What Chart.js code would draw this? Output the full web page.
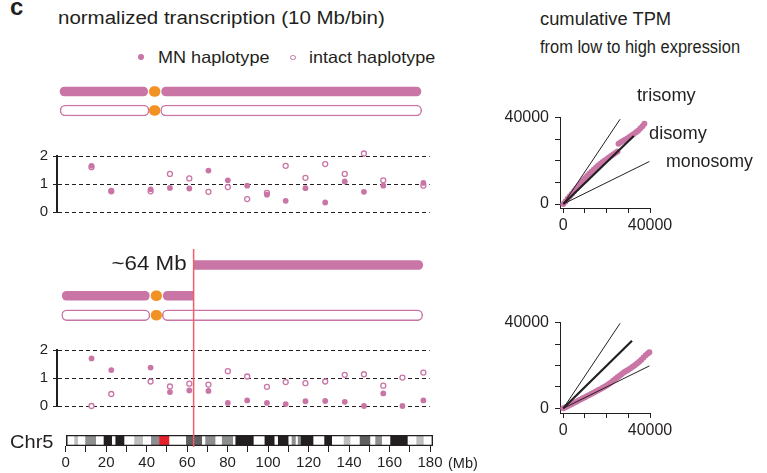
<!DOCTYPE html>
<html><head><meta charset="utf-8">
<script src="https://cdn.jsdelivr.net/npm/chart.js@4"></script>
<style>
html,body{margin:0;padding:0;background:#fff;width:767px;height:473px;overflow:hidden;position:relative;font-family:"Liberation Sans",Arial,Helvetica,sans-serif;color:#231f20}
canvas{position:absolute}
.t{position:absolute;white-space:nowrap;line-height:1}
.dot{position:absolute;border-radius:50%;box-sizing:border-box}
</style></head><body>
<script>
// ---------------- data ----------------
// bin centres (Mb) of the 10 Mb bins along Chr5
const binsMb = [13.0, 22.9, 42.6, 52.3, 62.0, 71.6, 81.3, 91.0, 100.9, 110.3, 120.2, 130.1, 139.9, 149.5, 159.2, 168.8, 179.3];
// normalized transcription, upper panel (whole-chromosome MN)
const topMN     = [1.65, 0.76, 0.81, 0.86, 0.84, 1.48, 1.13, 0.94, 0.62, 0.40, 0.85, 0.34, 1.09, 0.72, 0.94, null, 1.04];
const topIntact = [1.60, 0.74, 0.74, 1.36, 1.20, 0.72, 0.89, 0.46, 0.68, 1.65, 1.22, 1.71, 1.36, 2.09, 1.13, null, 0.94];
// lower panel (~64 Mb breakpoint)
const botMN     = [1.71, 1.29, 1.38, 0.50, 0.56, 0.54, 0.11, 0.20, 0.11, 0.07, 0.17, 0.18, 0.15, 0.00, 0.45, 0.00, 0.20];
const botIntact = [0.00, 0.43, 0.88, 0.70, 0.80, 0.77, 1.25, 1.06, 0.69, 0.86, 0.82, 0.88, 1.12, 1.14, 0.73, 1.02, 1.20];
const yTicksNorm = [0, 1, 2];

// chromosome cartoons (Mb)
const topMNArms     = [[-2.8, 40.5], [47.4, 175.5]];
const topIntactArms = [[-2.8, 41.2], [46.9, 175.9]];
const topCen        = [41.3, 46.6];
const breakpointMb  = 63.2;
const botGain       = [63.2, 176.4];
const botMNArms     = [[-1.7, 41.3], [48.2, 63.2]];
const botIntactArms = [[-2.0, 41.6], [47.7, 176.4]];
const botCen        = [42.2, 47.4];

// Chr5 ideogram bands [start, end, stain]
const chrLen = 181.45;
const bands = [
 [0,4.1,'gneg'],[4.1,5.9,'gpos25'],[5.9,9.5,'gneg'],[9.5,14.8,'gpos50'],[14.8,18.6,'gneg'],
 [18.6,22.7,'gpos100'],[22.7,24.4,'gneg'],[24.4,28.8,'gpos100'],[28.8,33.7,'gneg'],[33.7,38,'gpos25'],
 [38,42,'gneg'],[42,46.1,'gpos50'],[46.1,51,'acen'],[51,59.3,'gneg'],[59.3,67.2,'gpos75'],
 [67.2,68.8,'gneg'],[68.8,73.8,'gpos50'],[73.8,77,'gneg'],[77,82.5,'gpos50'],[82.5,83.7,'gneg'],
 [83.7,92.7,'gpos100'],[92.7,98.1,'gneg'],[98.1,103,'gpos100'],[103,104.7,'gneg'],[104.7,109.9,'gpos100'],
 [109.9,111.5,'gneg'],[111.5,113.5,'gpos50'],[113.5,114.5,'gneg'],[114.5,116,'gpos50'],[116,122.2,'gpos100'],
 [122.2,127.6,'gneg'],[127.6,131.4,'gpos100'],[131.4,137.2,'gneg'],[137.2,140.5,'gpos25'],[140.5,145.1,'gneg'],
 [145.1,150.3,'gpos75'],[150.3,152.8,'gneg'],[152.8,156.1,'gpos50'],[156.1,160.2,'gneg'],[160.2,168.8,'gpos100'],
 [168.8,173.1,'gneg'],[173.1,176.7,'gpos25'],[176.7,181.45,'gneg']
];
const chrTicksMb = [0,10,20,30,40,50,60,70,80,90,100,110,120,130,140,150,160,170,180];

// cumulative TPM (thousands): expected (x) vs observed (y)
const cumTopX = [0,1,2,3,4,5,6,7,8,9,10,11,12,13,14,15,16,17,18,19,20,21,22,23,24,25,25.5,26.5,27.5,28.5,29.5,30.5,31.5,32.5,33.5,34.5,35.5,36.5,37.4];
const cumTopY = [0,1.2,2.4,3.6,4.8,6,7.2,8.4,9.6,10.8,11.9,13,14,15,15.9,16.8,17.7,18.5,19.3,20.1,20.8,21.5,22.2,22.9,23.6,24.3,27.9,28.6,29.2,29.8,30.4,31,31.7,32.4,33.2,34,35,36,37.2];
const cumBotX = [0,1,2,3,4,5,6,7,8,9,10,11,12,13,14,15,16,17,18,19,20,21,22,23,24,25,26,27,28,29,30,31,32,33,34,35,36,37,38,39,39.7];
const cumBotY = [0,0.5,1,1.55,2.05,2.6,3.1,3.6,4.15,4.7,5.2,5.75,6.25,6.8,7.3,7.85,8.4,8.9,9.5,10.1,10.7,11.4,12.1,12.9,13.7,14.5,15.2,16,16.8,17.4,18,18.7,19.4,20.1,20.9,21.7,22.7,23.7,24.8,25.6,26.2];
// reference lines: end points (thousands) [x, y]
const trisomyTop = [26.2, 39.3], disomyTop = [32.5, 31.5], monosomyTop = [39.7, 19.7];
const trisomyBot = [26.2, 39.7], disomyBot = [31.7, 31.6], monosomyBot = [39.7, 19.8];
const cumTicks = [0, 10000, 20000, 30000, 40000];

// ---------------- styles ----------------
const FONT = '"Liberation Sans", Arial, Helvetica, sans-serif';
const PINK = '#c975a5', ORANGE = '#f29224', INK = '#231f20', RED = '#ee5f6a';
const STAIN = {gneg:'#ffffff', gpos25:'#bdbec0', gpos50:'#8d8e90', gpos75:'#5f6062', gpos100:'#231f20', acen:'#e8202a'};
Chart.defaults.font.family = FONT;
Chart.defaults.color = INK;
Chart.defaults.animation = false;
Chart.defaults.responsive = false;
Chart.defaults.events = [];
Chart.defaults.plugins.legend.display = false;
Chart.defaults.plugins.tooltip.enabled = false;

const PX0 = 65.7, PPM = 2.024;              // x pixel of 0 Mb, px per Mb (left column)
const mbAt = px => (px - PX0) / PPM;

function mkCanvas(left, top, w, h, z) {
  const c = document.createElement('canvas');
  c.width = w; c.height = h;
  c.style.left = left + 'px'; c.style.top = top + 'px';
  if (z) c.style.zIndex = z;
  document.body.appendChild(c);
  return c.getContext('2d');
}

function text(str, o) {
  const d = document.createElement('div');
  d.className = 't';
  d.textContent = str;
  d.style.fontSize = o.size + 'px';
  if (o.bold) d.style.fontWeight = 'bold';
  d.style.top = (o.baseline - 0.8465 * o.size) + 'px';
  document.body.appendChild(d);
  const w0 = d.offsetWidth;
  if (o.right != null) { d.style.left = (o.right - w0) + 'px'; d.style.transformOrigin = 'right center'; }
  else { d.style.left = o.left + 'px'; d.style.transformOrigin = 'left center'; }
  if (o.width) d.style.transform = 'scaleX(' + (o.width / w0) + ')';
  return d;
}

// ---------------- normalized transcription scatter panels ----------------
function normPanel(top, plotTop, plotBottom, mn, intact) {
  const H = 84, W = 435;
  const pts = arr => binsMb.map((x, i) => arr[i] == null ? null : {x, y: arr[i]}).filter(Boolean);
  new Chart(mkCanvas(0, top, W, H), {
    type: 'scatter',
    data: {datasets: [
      {data: pts(mn), backgroundColor: PINK, borderColor: PINK, borderWidth: 0, pointRadius: 2.9, clip: false},
      {data: pts(intact), backgroundColor: '#fff', borderColor: PINK, borderWidth: 1.3, pointRadius: 2.5, clip: false}
    ]},
    options: {
      layout: {padding: {top: plotTop - top, bottom: top + H - plotBottom, left: 0, right: 0}},
      scales: {
        x: {type: 'linear', display: false, min: mbAt(57), max: mbAt(W)},
        y: {type: 'linear', min: 0, max: 2,
            afterFit: s => { s.width = 57; },
            afterBuildTicks: s => { s.ticks = yTicksNorm.map(v => ({value: v})); },
            ticks: {color: INK, font: {size: 15}, padding: 5},
            grid: {color: INK, lineWidth: 1, tickLength: 4, tickColor: INK},
            border: {display: true, color: INK, width: 2, dash: [4, 3]}}
      }
    }
  });
}
normPanel(142, 156, 212.7, topMN, topIntact);
normPanel(336, 350.3, 406.3, botMN, botIntact);

// ---------------- chromosome cartoons (floating horizontal bars) ----------------
const KIND = {
  mn:     {backgroundColor: PINK, borderWidth: 0, barThickness: 9},
  intact: {backgroundColor: '#fff', borderColor: PINK, borderWidth: 1.5, barThickness: 11},
  cen:    {backgroundColor: ORANGE, borderWidth: 0, barThickness: 10}
};
function cartoon(top, h, rows) {
  const W = 435;
  const datasets = [];
  rows.forEach((segs, r) => segs.forEach(s => {
    const data = rows.map((_, i) => i === r ? s.range : null);
    datasets.push(Object.assign({data, borderSkipped: false, borderRadius: s.radius == null ? 6 : s.radius, grouped: false}, KIND[s.kind]));
  }));
  new Chart(mkCanvas(0, top, W, h), {
    type: 'bar',
    data: {labels: rows.map((_, i) => 'r' + i), datasets},
    options: {
      indexAxis: 'y',
      layout: {padding: 0},
      scales: {
        x: {type: 'linear', display: false, min: mbAt(0), max: mbAt(W)},
        y: {type: 'category', display: false}
      }
    }
  });
}
cartoon(82, 38, [
  [...topMNArms.map(r => ({range: r, kind: 'mn'})), {range: topCen, kind: 'cen'}],
  [...topIntactArms.map(r => ({range: r, kind: 'intact'})), {range: topCen, kind: 'cen'}]
]);
cartoon(254.7, 20, [
  [{range: botGain, kind: 'mn', radius: {topLeft: 0, bottomLeft: 0, topRight: 6, bottomRight: 6}}]
]);
cartoon(286, 39, [
  [{range: botMNArms[0], kind: 'mn'}, {range: botMNArms[1], kind: 'mn', radius: {topLeft: 6, bottomLeft: 6, topRight: 0, bottomRight: 0}}, {range: botCen, kind: 'cen'}],
  [...botIntactArms.map(r => ({range: r, kind: 'intact'})), {range: botCen, kind: 'cen'}]
]);

// ---------------- Chr5 ideogram ----------------
(function () {
  const top = 430, H = 43, W = 480, right = 433;
  const datasets = [{data: [[0, chrLen]], backgroundColor: 'rgba(0,0,0,0)', borderColor: INK, borderWidth: 1, borderSkipped: false, grouped: false, barPercentage: 1, categoryPercentage: 1}];
  bands.forEach(b => datasets.push({data: [[b[0], b[1]]], backgroundColor: STAIN[b[2]], borderWidth: 0, grouped: false, barPercentage: 1, categoryPercentage: 1}));
  new Chart(mkCanvas(0, top, W, H), {
    type: 'bar',
    data: {labels: ['Chr5'], datasets},
    options: {
      indexAxis: 'y',
      layout: {padding: {left: PX0, right: W - right, top: 5, bottom: 0}},
      scales: {
        x: {type: 'linear', min: 0, max: mbAt(right),
            afterFit: s => { s.height = 27; },
            afterBuildTicks: s => { s.ticks = chrTicksMb.map(v => ({value: v})); },
            ticks: {callback: v => (v % 20 === 0 ? String(v) : ''), color: INK, font: {size: 15}, padding: 2, maxRotation: 0, autoSkip: false},
            grid: {drawOnChartArea: false, tickLength: 6, color: INK, lineWidth: 1},
            border: {display: false}},
        y: {type: 'category', display: false}
      }
    }
  });
})();

// ---------------- breakpoint line (overlay) ----------------
new Chart(mkCanvas(0, 249, 435, 198, 5), {
  type: 'scatter',
  data: {datasets: [{data: [{x: breakpointMb, y: 0}, {x: breakpointMb, y: 1}], showLine: true, borderColor: RED, borderWidth: 1.5, pointRadius: 0}]},
  options: {layout: {padding: 0}, scales: {x: {type: 'linear', display: false, min: mbAt(0), max: mbAt(435)}, y: {type: 'linear', display: false, min: 0, max: 1}}}
});

// ---------------- cumulative TPM panels ----------------
function cumPanel(canvasTop, plotTop, axisY, zeroY, xs, ys, tri, di, mono) {
  const left = 500, W = 180, yAxisW = 60, H = Math.round(axisY + 25 - canvasTop);
  const plotRight = 650, x0 = 563.3;
  const pxPerX = (plotRight - x0) / 40000;
  const pxPerY = (zeroY - plotTop) / 40000;
  const K = 1000;
  const line = (e, w) => ({data: [{x: 0, y: 0}, {x: e[0] * K, y: e[1] * K}], showLine: true, borderColor: INK, borderWidth: w, pointRadius: 0, clip: false});
  new Chart(mkCanvas(left, canvasTop, W, H), {
    type: 'scatter',
    data: {datasets: [
      line(tri, 1), line(di, 2.2), line(mono, 1),
      {data: xs.map((x, i) => ({x: x * K, y: ys[i] * K})), backgroundColor: PINK, borderColor: PINK, borderWidth: 0, pointRadius: 3, clip: false}
    ]},
    options: {
      layout: {padding: {top: plotTop - canvasTop, right: left + W - plotRight, left: 0, bottom: 0}},
      scales: {
        x: {type: 'linear', min: -(x0 - (left + yAxisW)) / pxPerX, max: 40000,
            afterFit: s => { s.height = 25; },
            afterBuildTicks: s => { s.ticks = cumTicks.map(v => ({value: v})); },
            ticks: {callback: v => (v === 0 || v === 40000 ? String(v) : ''), color: INK, font: {size: 16}, padding: 3, maxRotation: 0, autoSkip: false},
            grid: {drawOnChartArea: false, tickLength: 5, color: INK},
            border: {display: true, color: INK, width: 1}},
        y: {type: 'linear', min: -(axisY - zeroY) / pxPerY, max: 40000,
            afterFit: s => { s.width = yAxisW; },
            afterBuildTicks: s => { s.ticks = cumTicks.map(v => ({value: v})); },
            ticks: {callback: v => (v === 0 || v === 40000 ? String(v) : ''), color: INK, font: {size: 16}, padding: 6},
            grid: {drawOnChartArea: false, tickLength: 5, color: INK},
            border: {display: true, color: INK, width: 1}}
      }
    }
  });
}
cumPanel(100, 117.7, 208.3, 204.3, cumTopX, cumTopY, trisomyTop, disomyTop, monosomyTop);
cumPanel(305, 322.7, 413, 408.3, cumBotX, cumBotY, trisomyBot, disomyBot, monosomyBot);

// ---------------- texts ----------------
text('c', {left: 10, baseline: 15, size: 24, bold: true});
text('normalized transcription (10 Mb/bin)', {left: 58.3, baseline: 24.5, size: 18, width: 326.7});
text('MN haplotype', {left: 158.3, baseline: 63.3, size: 16.5, width: 111.7});
text('intact haplotype', {left: 309, baseline: 63.3, size: 16.5, width: 126.7});
text('cumulative TPM', {left: 540, baseline: 26, size: 17.5, width: 131});
text('from low to high expression', {left: 540, baseline: 54, size: 17.5, width: 200});
text('trisomy', {left: 636.7, baseline: 101.5, size: 17.5, width: 58.3});
text('disomy', {left: 649.3, baseline: 139.6, size: 17.5, width: 57.4});
text('monosomy', {left: 665.7, baseline: 168, size: 17.5, width: 87.3});
text('~64 Mb', {right: 187.3, baseline: 270.7, size: 19.5, width: 75.6});
text('Chr5', {left: 10, baseline: 448, size: 19, width: 43.3});
text('(Mb)', {left: 448.3, baseline: 468, size: 15.5, width: 30});

// legend markers
(function () {
  const a = document.createElement('div'); a.className = 'dot';
  Object.assign(a.style, {left: '138.4px', top: '54.4px', width: '5.8px', height: '5.8px', background: PINK});
  const b = document.createElement('div'); b.className = 'dot';
  Object.assign(b.style, {left: '290.3px', top: '54.5px', width: '5.4px', height: '5.4px', border: '1.2px solid ' + PINK, background: '#fff'});
  document.body.appendChild(a); document.body.appendChild(b);
})();
</script>
</body></html>
